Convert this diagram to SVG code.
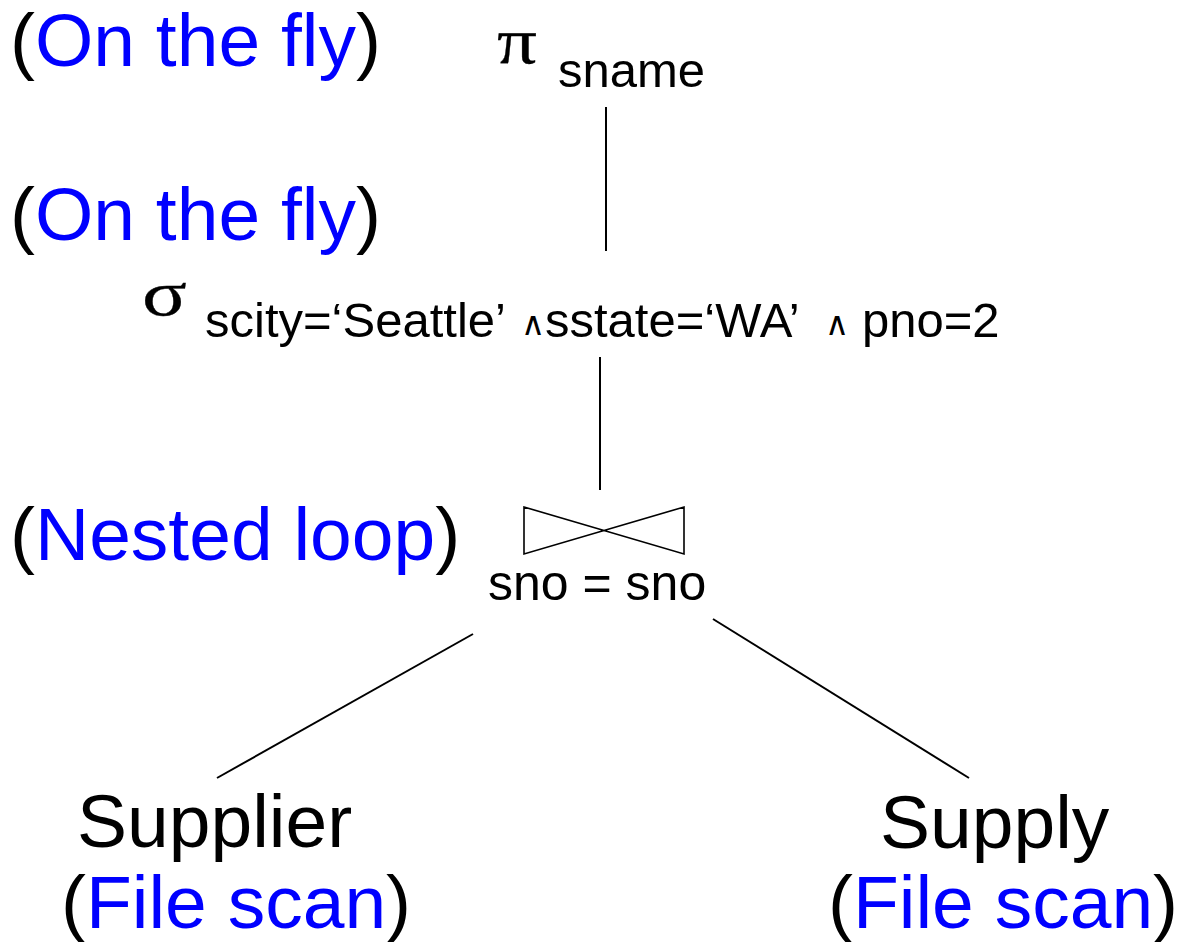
<svg xmlns="http://www.w3.org/2000/svg" width="1180" height="942" viewBox="0 0 1180 942">
  <style>
    .sans { font-family: "Liberation Sans", Arial, sans-serif; fill: #000; }
    .greek { font-family: "Liberation Serif", "Times New Roman", serif; fill: #000; stroke: #000; stroke-width: 0.3; }
    .big { font-size: 75px; }
    .sub { font-size: 49px; }
    .and { font-size: 33px; }
    .blue { fill: #0000ff; }
    .edge { stroke: #000; stroke-width: 2; fill: none; }
  </style>
  <rect width="1180" height="942" fill="#fff"/>

  <!-- tree edges -->
  <g id="connectors">
    <line class="edge" x1="606" y1="107" x2="606" y2="251"/>
    <line class="edge" x1="600" y1="357" x2="600" y2="490"/>
    <line class="edge" x1="473" y1="634" x2="217" y2="778"/>
    <line class="edge" x1="713" y1="619" x2="969" y2="778"/>
  </g>

  <!-- projection -->
  <g id="project">
    <text class="greek" transform="translate(497,63) scale(1.2,1)" font-size="66">π</text>
    <text class="sans sub" x="558" y="87">sname</text>
  </g>

  <!-- selection -->
  <g id="select">
    <text class="greek" transform="translate(142,315) scale(1.3,1)" font-size="64">σ</text>
    <text class="sans sub" x="205" y="337">scity=‘Seattle’</text>
    <text class="sans and" x="521" y="335">∧</text>
    <text class="sans sub" x="545" y="337">sstate=‘WA’</text>
    <text class="sans and" x="825" y="335">∧</text>
    <text class="sans sub" x="862" y="337">pno=2</text>
  </g>

  <!-- join -->
  <g id="join">
    <polygon points="524,507 684,554 684,507 524,554" fill="none" stroke="#000" stroke-width="1.6" stroke-linejoin="miter"/>
    <text class="sans" font-size="50" x="488" y="600">sno = sno</text>
  </g>

  <!-- base relations -->
  <g id="supplier">
    <text class="sans big" x="77" y="847">Supplier</text>
    <text class="sans big" x="61" y="928">(<tspan class="blue">File scan</tspan>)</text>
  </g>
  <g id="supply">
    <text class="sans big" x="880" y="848">Supply</text>
    <text class="sans big" x="828" y="928">(<tspan class="blue">File scan</tspan>)</text>
  </g>

  <!-- operator annotations -->
  <g id="note-project">
    <text class="sans big" x="10" y="66">(<tspan class="blue">On the fly</tspan>)</text>
  </g>
  <g id="note-select">
    <text class="sans big" x="10" y="240">(<tspan class="blue">On the fly</tspan>)</text>
  </g>
  <g id="note-join">
    <text class="sans big" x="10" y="560">(<tspan class="blue">Nested loop</tspan>)</text>
  </g>
</svg>
